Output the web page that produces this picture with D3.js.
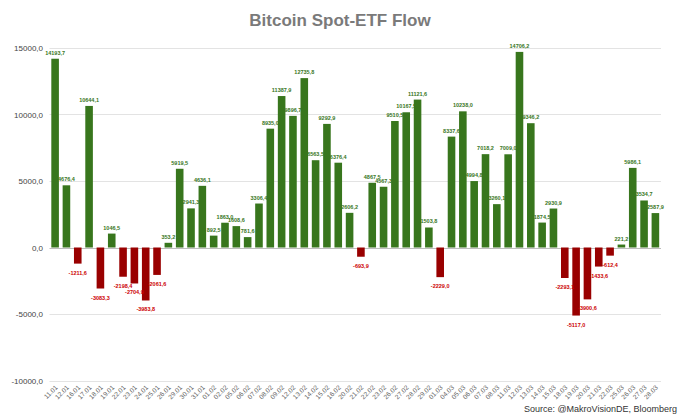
<!DOCTYPE html>
<html><head><meta charset="utf-8">
<script src="https://cdn.jsdelivr.net/npm/d3@7"></script>
<style>body{margin:0;background:#fff}svg{display:block;font-family:"Liberation Sans",Arial,sans-serif}</style>
</head><body><svg id="c" width="680" height="417"></svg>
<script>
const dates = ["11.01","12.01","16.01","17.01","18.01","19.01","22.01","23.01","24.01","25.01","26.01","29.01","30.01","31.01","01.02","02.02","05.02","06.02","07.02","08.02","09.02","12.02","13.02","14.02","15.02","16.02","20.02","21.02","22.02","23.02","26.02","27.02","28.02","29.02","01.03","04.03","05.03","06.03","07.03","08.03","11.03","12.03","13.03","14.03","15.03","18.03","19.03","20.03","21.03","22.03","25.03","26.03","27.03","28.03"];
const flows = [14193.7,4676.4,-1211.6,10644.1,-3083.3,1046.5,-2198.4,-2704.9,-3983.8,-2061.6,353.2,5919.5,2941.3,4636.1,892.5,1863.0,1608.6,781.6,3306.4,8935.0,11387.9,9896.7,12735.8,6563.5,9292.9,6376.4,2606.2,-693.9,4867.5,4567.3,9510.5,10167.5,11121.6,1503.8,-2229.0,8337.6,10238.0,4994.8,7018.2,3260.1,7009.0,14706.2,9346.2,1874.5,2930.9,-2293.1,-5117.0,-3900.6,-1433.6,-612.4,221.2,5986.1,3534.7,2587.9];
const yTicks = [15000,10000,5000,0,-5000,-10000];
const title = "Bitcoin Spot-ETF Flow";
const source = "Source: @MakroVisionDE, Bloomberg";

const svg = d3.select("#c");
const x = d3.scaleBand().domain(dates).range([49.5,661]).paddingInner(0.33).paddingOuter(0.16);
const y = d3.scaleLinear().domain([-10000,15000]).range([380.5,48]);
const fmt = v => d3.format(".1f")(v).replace(".", ",").replace("−","-");

svg.append("text").attr("x",340).attr("y",26).attr("text-anchor","middle")
  .attr("font-size",17).attr("font-weight","bold").attr("fill","#7a7a7a").text(title);

// grid
svg.append("g").selectAll("line").data(yTicks).join("line")
  .attr("x1",49.5).attr("x2",661).attr("y1",d=>Math.round(y(d))+0.5).attr("y2",d=>Math.round(y(d))+0.5)
  .attr("stroke",d=>d===0?"#bdbdbd":"#e3e3e3").attr("stroke-width",1);

// y axis
const ya = svg.append("g").attr("transform","translate(46,0)")
  .call(d3.axisLeft(y).tickValues(yTicks).tickSize(0).tickFormat(fmt));
ya.select(".domain").remove();
ya.selectAll("text").attr("font-size",8).attr("fill","#444").attr("font-family","Liberation Sans, Arial, sans-serif");

// bars
svg.append("g").selectAll("rect").data(flows).join("rect")
  .attr("x",(d,i)=>x(dates[i])).attr("width",x.bandwidth())
  .attr("y",d=>y(Math.max(0,d))).attr("height",d=>Math.abs(y(d)-y(0)))
  .attr("fill",d=>d>=0?"#38761d":"#990000");

// value labels
svg.append("g").selectAll("text").data(flows).join("text")
  .attr("x",(d,i)=>x(dates[i])+x.bandwidth()/2)
  .attr("y",d=>d>=0?y(d)-4:y(d)+11)
  .attr("text-anchor","middle").attr("font-size",5.5).attr("font-weight","bold")
  .attr("fill",d=>d>=0?"#38761d":"#cc0000").text(fmt);

// x labels
svg.append("g").selectAll("text").data(dates).join("text")
  .attr("transform",d=>`translate(${x(d)+x.bandwidth()/2+3},388) rotate(-45)`)
  .attr("text-anchor","end").attr("font-size",6.6).attr("fill","#666").text(d=>d);

svg.append("text").attr("x",677).attr("y",412).attr("text-anchor","end")
  .attr("font-size",9).attr("fill","#333").text(source);
</script></body></html>
